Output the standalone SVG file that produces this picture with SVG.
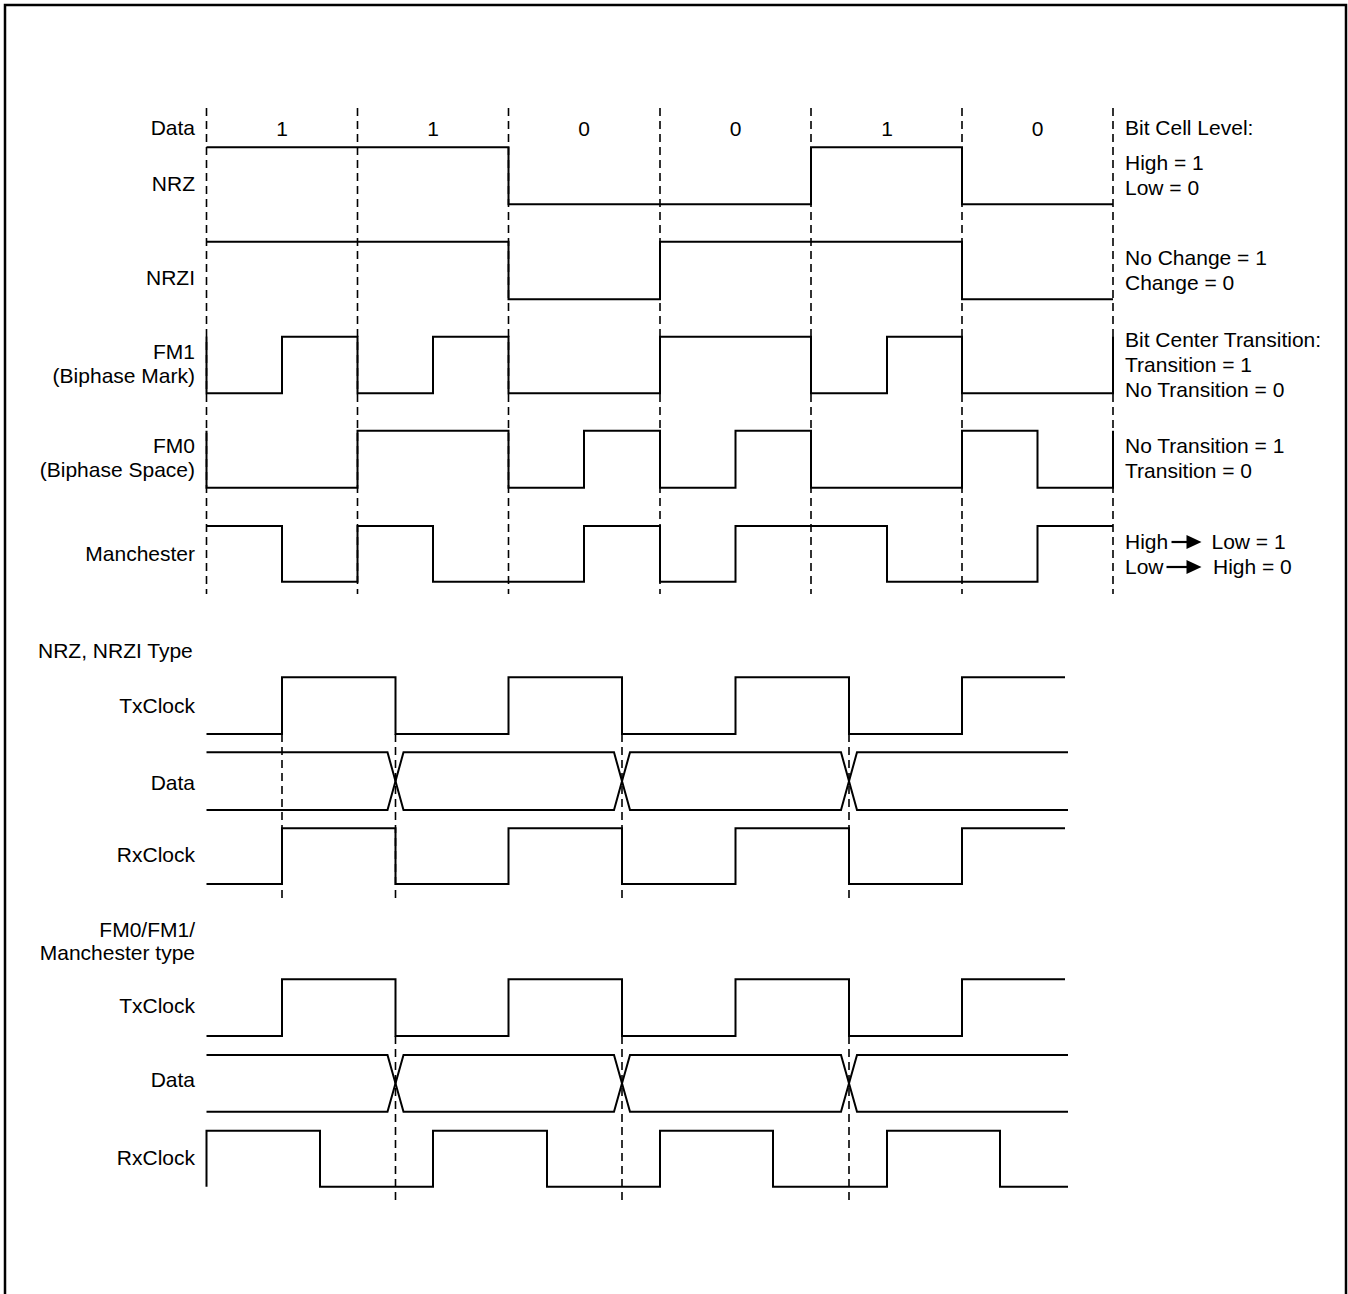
<svg xmlns="http://www.w3.org/2000/svg" width="1348" height="1294" viewBox="0 0 1348 1294">
<style>
text{font-family:"Liberation Sans",Arial,sans-serif;font-size:21px;fill:#000}
.r{text-anchor:end}
.c{text-anchor:middle}
.w{fill:none;stroke:#000;stroke-width:2;stroke-linejoin:miter}
.d{fill:none;stroke:#000;stroke-width:1.6;stroke-dasharray:8,5}
</style>
<rect width="1348" height="1294" fill="#fff"/>
<path d="M5,1294 V5 H1346 V1294" fill="none" stroke="#000" stroke-width="2.5"/>

<g id="connectors">
  <g id="cell-boundaries">
    <line class="d" x1="206.5" y1="108" x2="206.5" y2="594"/>
    <line class="d" x1="357.5" y1="108" x2="357.5" y2="594"/>
    <line class="d" x1="508.5" y1="108" x2="508.5" y2="594"/>
    <line class="d" x1="660" y1="108" x2="660" y2="594"/>
    <line class="d" x1="811" y1="108" x2="811" y2="594"/>
    <line class="d" x1="962" y1="108" x2="962" y2="594"/>
    <line class="d" x1="1113" y1="108" x2="1113" y2="594"/>
  </g>
  <g id="nrz-sampling">
    <line class="d" x1="282" y1="734" x2="282" y2="900"/>
    <line class="d" x1="395.5" y1="734" x2="395.5" y2="900"/>
    <line class="d" x1="622" y1="734" x2="622" y2="900"/>
    <line class="d" x1="849" y1="734" x2="849" y2="900"/>
  </g>
  <g id="fm-sampling">
    <line class="d" x1="395.5" y1="1036" x2="395.5" y2="1203"/>
    <line class="d" x1="622" y1="1036" x2="622" y2="1203"/>
    <line class="d" x1="849" y1="1036" x2="849" y2="1203"/>
  </g>
</g>

<g id="data-row">
  <text class="r" x="195" y="135">Data</text>
  <text class="c" x="282" y="136">1</text>
  <text class="c" x="433" y="136">1</text>
  <text class="c" x="584" y="136">0</text>
  <text class="c" x="735.5" y="136">0</text>
  <text class="c" x="887" y="136">1</text>
  <text class="c" x="1037.5" y="136">0</text>
</g>

<g id="nrz">
  <text class="r" x="195" y="191">NRZ</text>
  <path class="w" d="M206.5,147.3 H508.5 V204.3 H811 V147.3 H962 V204.3 H1113"/>
</g>
<g id="nrzi">
  <text class="r" x="195" y="285">NRZI</text>
  <path class="w" d="M206.5,241.7 H508.5 V299.3 H660 V241.7 H962 V299.3 H1113"/>
</g>
<g id="fm1">
  <text class="r" x="195" y="359">FM1</text>
  <text class="r" x="195" y="383">(Biphase Mark)</text>
  <path class="w" d="M206.5,336.7 V393.3 H282 V336.7 H357.5 V393.3 H433 V336.7 H508.5 V393.3 H660 V336.7 H811 V393.3 H887 V336.7 H962 V393.3 H1113 V336.7"/>
</g>
<g id="fm0">
  <text class="r" x="195" y="453">FM0</text>
  <text class="r" x="195" y="477">(Biphase Space)</text>
  <path class="w" d="M206.5,430.7 V487.7 H357.5 V430.7 H508.5 V487.7 H584 V430.7 H660 V487.7 H735.5 V430.7 H811 V487.7 H962 V430.7 H1037.5 V487.7 H1113 V430.7"/>
</g>
<g id="manchester">
  <text class="r" x="195" y="561">Manchester</text>
  <path class="w" d="M206.5,526 H282 V581.7 H357.5 V526 H433 V581.7 H584 V526 H660 V581.7 H735.5 V526 H887 V581.7 H1037.5 V526 H1113"/>
</g>

<g id="legend">
  <text x="1125" y="135">Bit Cell Level:</text>
  <text x="1125" y="170">High = 1</text>
  <text x="1125" y="195">Low = 0</text>
  <text x="1125" y="265">No Change = 1</text>
  <text x="1125" y="290">Change = 0</text>
  <text x="1125" y="346.5">Bit Center Transition:</text>
  <text x="1125" y="371.5">Transition = 1</text>
  <text x="1125" y="396.5">No Transition = 0</text>
  <text x="1125" y="453">No Transition = 1</text>
  <text x="1125" y="478">Transition = 0</text>
  <text x="1125" y="548.5">High</text>
  <line x1="1171.5" y1="542" x2="1188" y2="542" stroke="#000" stroke-width="2.2"/>
  <polygon points="1186.5,535 1201.5,542 1186.5,549" fill="#000"/>
  <text x="1211.5" y="548.5">Low = 1</text>
  <text x="1125" y="574">Low</text>
  <line x1="1166.5" y1="567" x2="1188" y2="567" stroke="#000" stroke-width="2.2"/>
  <polygon points="1186.5,560 1201.5,567 1186.5,574" fill="#000"/>
  <text x="1213" y="574">High = 0</text>
</g>

<g id="nrz-type">
  <text x="38" y="658">NRZ, NRZI Type</text>
  <g id="nrz-txclock">
    <text class="r" x="195" y="713">TxClock</text>
    <path class="w" d="M206.5,734 H282 V677.3 H395.5 V734 H508.5 V677.3 H622 V734 H735.5 V677.3 H849 V734 H962 V677.3 H1065"/>
  </g>
  <g id="nrz-data">
    <text class="r" x="195" y="790">Data</text>
    <path class="w" d="M206.5,752.3 H387.5 L403.5,810 H614 L630,752.3 H841 L857,810 H1068"/>
    <path class="w" d="M206.5,810 H387.5 L403.5,752.3 H614 L630,810 H841 L857,752.3 H1068"/>
  </g>
  <g id="nrz-rxclock">
    <text class="r" x="195" y="862">RxClock</text>
    <path class="w" d="M206.5,884 H282 V828.3 H395.5 V884 H508.5 V828.3 H622 V884 H735.5 V828.3 H849 V884 H962 V828.3 H1065"/>
  </g>
</g>

<g id="fm-type">
  <text class="r" x="195" y="937">FM0/FM1/</text>
  <text class="r" x="195" y="960">Manchester type</text>
  <g id="fm-txclock">
    <text class="r" x="195" y="1013">TxClock</text>
    <path class="w" d="M206.5,1036 H282 V979.3 H395.5 V1036 H508.5 V979.3 H622 V1036 H735.5 V979.3 H849 V1036 H962 V979.3 H1065"/>
  </g>
  <g id="fm-data">
    <text class="r" x="195" y="1087">Data</text>
    <path class="w" d="M206.5,1055 H387.5 L403.5,1111.7 H614 L630,1055 H841 L857,1111.7 H1068"/>
    <path class="w" d="M206.5,1111.7 H387.5 L403.5,1055 H614 L630,1111.7 H841 L857,1055 H1068"/>
  </g>
  <g id="fm-rxclock">
    <text class="r" x="195" y="1165">RxClock</text>
    <path class="w" d="M206.5,1186.7 V1130.7 H320 V1186.7 H433 V1130.7 H547 V1186.7 H660 V1130.7 H773 V1186.7 H887 V1130.7 H1000 V1186.7 H1068"/>
  </g>
</g>
</svg>
